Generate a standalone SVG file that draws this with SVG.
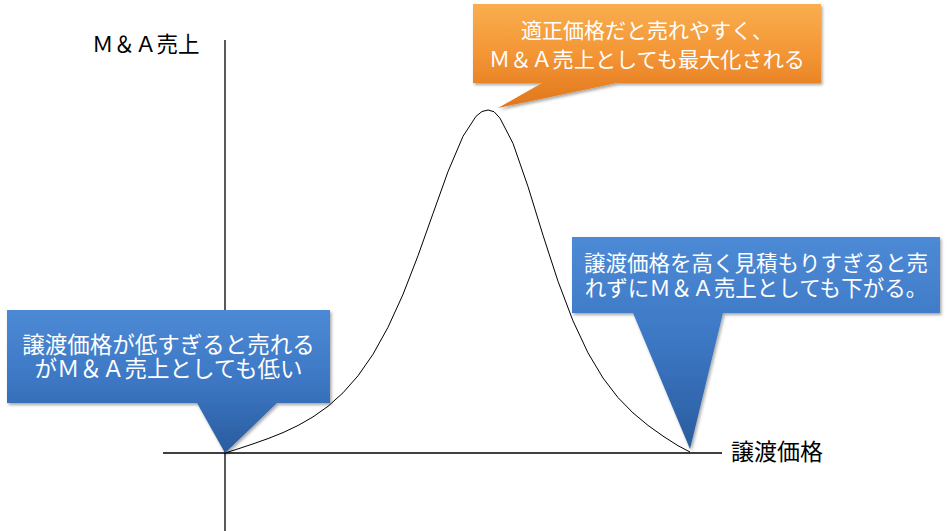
<svg xmlns="http://www.w3.org/2000/svg" width="950" height="531" viewBox="0 0 950 531">
  <defs>
    <linearGradient id="gOrange" x1="0" y1="0" x2="0" y2="1">
      <stop offset="0" stop-color="#f9ae4e"/>
      <stop offset="0.5" stop-color="#f39434"/>
      <stop offset="1" stop-color="#e0761c"/>
    </linearGradient>
    <linearGradient id="gBlue" x1="0" y1="0" x2="0" y2="1">
      <stop offset="0" stop-color="#4d8ad6"/>
      <stop offset="0.5" stop-color="#3c77c3"/>
      <stop offset="1" stop-color="#2a5c9f"/>
    </linearGradient>
    <filter id="shadow" x="-10%" y="-10%" width="120%" height="130%">
      <feDropShadow dx="1.5" dy="2" stdDeviation="1.8" flood-color="#000" flood-opacity="0.35"/>
    </filter>
  </defs>
  <style>
    .axis { stroke: #000; stroke-width: 1.3; fill: none; }
    .curve { stroke: #000; stroke-width: 1; fill: none; stroke-linejoin: round; }
    .callout { filter: url(#shadow); }
    .ctext { font-family: "Noto Sans CJK JP", "Noto Sans", sans-serif; fill: #fff; text-anchor: middle; }
    .label { font-family: "Noto Sans CJK JP", "Noto Sans", sans-serif; fill: #000; }
  </style>
  <rect x="0" y="0" width="950" height="531" fill="#fff"/>

  <g id="connectors">
    <line class="axis" x1="225" y1="40" x2="225" y2="531"/>
    <line class="axis" x1="163" y1="453" x2="722" y2="453"/>
    <path class="curve" d="M225,453 L238,448.9 L253,443.9 L268,438.6 L283,432.6 L298,425.5 L313,416.9 L328,406.3 L343,392.8 L358,375.8 L373,354.3 L388,327.3 L403,294.4 L418,255.7 L433,213.5 L448,171.6 L463,136.3 L476,116.3 L482,111.5 L488,110 L494,111.7 L500,118.2 L513,143.4 L528,186.6 L543,235.2 L558,281.3 L573,320.9 L588,352.9 L603,378 L618,397.6 L633,412.9 L648,425.4 L663,436.1 L678,445.7 L690,452"/>
  </g>

  <g id="axis-y-label">
    <text class="label" x="92" y="52" font-size="21.5">Ｍ＆Ａ売上</text>
  </g>
  <g id="axis-x-label">
    <text class="label" x="731" y="460" font-size="23">譲渡価格</text>
  </g>

  <g id="callout-peak">
    <path class="callout" d="M473,4 H821 V83 H617 L498,108 L542,83 H473 Z" fill="url(#gOrange)"/>
    <text class="ctext" font-size="21"><tspan x="647" y="38">適正価格だと売れやすく、</tspan><tspan x="647" y="67" textLength="316" lengthAdjust="spacingAndGlyphs">Ｍ＆Ａ売上としても最大化される</tspan></text>
  </g>

  <g id="callout-low">
    <path class="callout" d="M7,310 H330 V403 H277 L225,453 L197,403 H7 Z" fill="url(#gBlue)"/>
    <text class="ctext" font-size="22.5"><tspan x="168.5" y="353">譲渡価格が低すぎると売れる</tspan><tspan x="168.5" y="377">がＭ＆Ａ売上としても低い</tspan></text>
  </g>

  <g id="callout-high">
    <path class="callout" d="M572,237 H940 V313 H723 L690,449 L633,313 H572 Z" fill="url(#gBlue)"/>
    <text class="ctext" font-size="21.5"><tspan x="756" y="271">譲渡価格を高く見積もりすぎると売</tspan><tspan x="756" y="296">れずにＭ＆Ａ売上としても下がる。</tspan></text>
  </g>
</svg>
